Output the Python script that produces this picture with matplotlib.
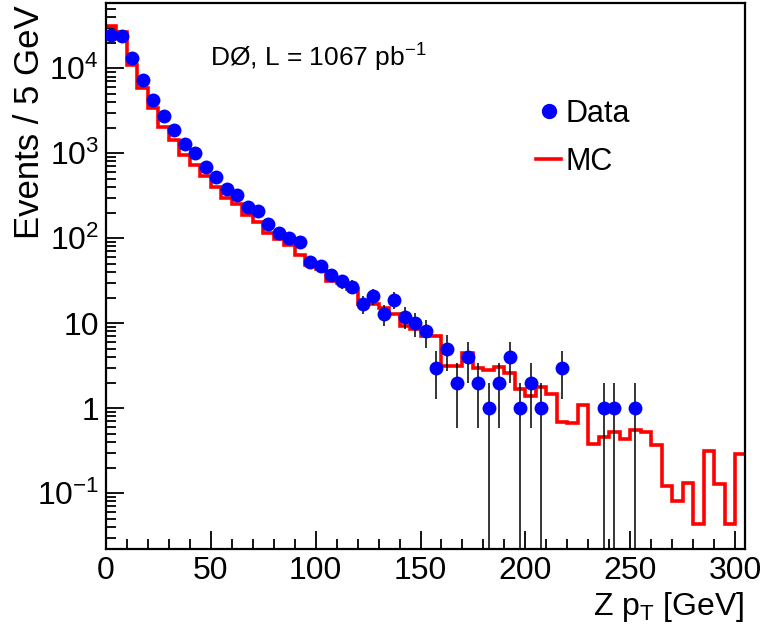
import numpy as np
import matplotlib
matplotlib.use("Agg")
import matplotlib.pyplot as plt
from matplotlib import font_manager
from matplotlib.lines import Line2D
from matplotlib.ticker import FixedLocator, LogLocator, NullFormatter, MultipleLocator

# MC histogram, 5 GeV bins from 0 to 305 GeV
bin_edges = np.arange(0, 310, 5)
mc_counts = [31400, 27000, 10900, 5800, 3400, 2050, 1430, 955, 720, 545,
             400, 295, 255, 190, 157, 116, 97, 83, 64, 49,
             44, 31, 29.5, 25, 17, 17, 15, 13, 9.3, 8.5,
             7.1, 7.1, 3.1, 3.1, 4.5, 2.95, 2.85, 3.03, 2.6, 1.67,
             1.4, 1.8, 1.46, 0.68, 0.67, 1.08, 0.38, 0.46, 0.52, 0.43,
             0.55, 0.52, 0.37, 0.123, 0.082, 0.133, 0.043, 0.316, 0.128, 0.043,
             0.29]

# data points (bins with entries only)
data_pt = [2.5, 7.5, 12.5, 17.5, 22.5, 27.5, 32.5, 37.5, 42.5, 47.5,
           52.5, 57.5, 62.5, 67.5, 72.5, 77.5, 82.5, 87.5, 92.5, 97.5,
           102.5, 107.5, 112.5, 117.5, 122.5, 127.5, 132.5, 137.5, 142.5, 147.5,
           152.5, 157.5, 162.5, 167.5, 172.5, 177.5, 182.5, 187.5, 192.5, 197.5,
           202.5, 207.5, 217.5, 237.5, 242.5, 252.5]
data_counts = [24600, 24000, 13100, 7300, 4250, 2750, 1900, 1290, 1000, 690,
               525, 378, 323, 235, 211, 147, 114, 102, 90, 53,
               47, 37, 31, 27, 17, 21, 13, 19, 12, 10,
               8, 3, 5, 2, 4, 2, 1, 2, 4, 1,
               2, 1, 3, 1, 1, 1]

y_ticks = [0.1, 1, 10, 100, 1000, 10000]
y_ticklabels = [r"$\mathregular{10^{-1}}$", "1", "10",
                r"$\mathregular{10^{2}}$", r"$\mathregular{10^{3}}$", r"$\mathregular{10^{4}}$"]

names = {f.name for f in font_manager.fontManager.ttflist}
fam = "Liberation Sans Narrow" if "Liberation Sans Narrow" in names else "Liberation Sans"
plt.rcParams["font.family"] = [fam, "DejaVu Sans"]

fig = plt.figure(figsize=(7.61, 6.34), dpi=100)
ax = fig.add_axes([106 / 761, 1 - 549.3 / 634, 639.5 / 761, 546.3 / 634])

ax.stairs(mc_counts, bin_edges, baseline=None, color="#ff0000", linewidth=2.6, zorder=2)

n = np.array(data_counts, dtype=float)
err = np.sqrt(n)
lower = np.minimum(err, n - 1e-3)
ax.errorbar(data_pt, n, yerr=[lower, err], fmt="none", ecolor="black",
            elinewidth=1.1, capsize=0, zorder=3)
ax.plot(data_pt, n, "o", color="#0000ff", markersize=10, markeredgewidth=0, zorder=4)

ax.set_yscale("log")
ax.set_xlim(0, 305)
ax.set_ylim(0.0219, 58600)

ax.xaxis.set_major_locator(MultipleLocator(50))
ax.xaxis.set_minor_locator(MultipleLocator(10))
ax.yaxis.set_major_locator(FixedLocator(y_ticks))
ax.set_yticklabels(y_ticklabels)
ax.yaxis.set_minor_locator(LogLocator(base=10, subs=np.arange(2, 10)))
ax.yaxis.set_minor_formatter(NullFormatter())

ax.tick_params(which="both", direction="in", top=False, right=False, width=1.3)
ax.tick_params(which="major", length=13, labelsize=23)
ax.tick_params(which="minor", length=7)
ax.tick_params(axis="x", pad=5)
ax.tick_params(axis="y", pad=5)
for sp in ax.spines.values():
    sp.set_linewidth(1.6)

ax.text(0.163, 0.899, r"DØ, L = 1067 pb$\mathregular{^{-1}}$", transform=ax.transAxes,
        fontsize=19, ha="left", va="center")

handles = [Line2D([], [], marker="o", color="#0000ff", linestyle="none", markersize=10),
           Line2D([], [], color="#ff0000", linewidth=2.6)]
ax.legend(handles, ["Data", "MC"], loc="upper left", bbox_to_anchor=(0.63, 0.875),
          frameon=False, fontsize=22, handlelength=0.8, handletextpad=0.15,
          labelspacing=0.6)

fig.text(30 / 761, 1 - 5 / 634, "Events / 5 GeV", rotation=90, ha="center", va="top",
         fontsize=25)
fig.text(745 / 761, 1 - 615 / 634, r"Z p$\mathregular{_T}$ [GeV]", ha="right",
         va="baseline", fontsize=23)

fig.savefig("out.png", dpi=100)
